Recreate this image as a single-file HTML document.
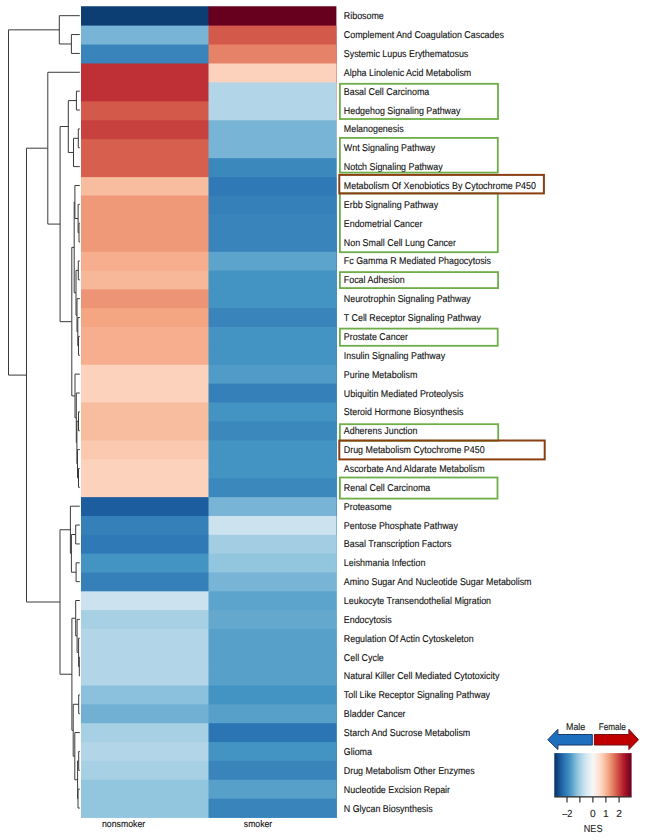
<!DOCTYPE html>
<html><head><meta charset="utf-8"><style>
html,body{margin:0;padding:0;background:#fff;}
svg{display:block;}
text{text-rendering:geometricPrecision;}
.lab text{text-rendering:geometricPrecision;font-family:"Liberation Sans",sans-serif;font-size:9.9px;fill:#111;stroke:#111;stroke-width:0.12px;}
</style></head><body>
<svg width="647" height="840" viewBox="0 0 647 840">
<defs><linearGradient id="g" x1="0" x2="1" y1="0" y2="0"><stop offset="0.0000" stop-color="#053061"/><stop offset="0.0417" stop-color="#114680"/><stop offset="0.0833" stop-color="#1c5da0"/><stop offset="0.1250" stop-color="#2a71b2"/><stop offset="0.1667" stop-color="#3884bb"/><stop offset="0.2083" stop-color="#4a97c5"/><stop offset="0.2500" stop-color="#6aacd0"/><stop offset="0.2917" stop-color="#8bc1dc"/><stop offset="0.3333" stop-color="#a7d0e4"/><stop offset="0.3750" stop-color="#c1ddec"/><stop offset="0.4167" stop-color="#d7e8f1"/><stop offset="0.4583" stop-color="#e7f0f4"/><stop offset="0.5000" stop-color="#f7f7f7"/><stop offset="0.5417" stop-color="#faebe3"/><stop offset="0.5833" stop-color="#fce0cf"/><stop offset="0.6250" stop-color="#fbceb6"/><stop offset="0.6667" stop-color="#f7b799"/><stop offset="0.7083" stop-color="#f19f7e"/><stop offset="0.7500" stop-color="#e58268"/><stop offset="0.7917" stop-color="#d96651"/><stop offset="0.8333" stop-color="#ca4842"/><stop offset="0.8750" stop-color="#bb2a34"/><stop offset="0.9167" stop-color="#a61429"/><stop offset="0.9583" stop-color="#860a24"/><stop offset="1.0000" stop-color="#67001f"/></linearGradient></defs>
<g><rect x="81.0" y="6.25" width="128.0" height="811.25" fill="#0c3e74"/><rect x="208.5" y="6.25" width="127.89999999999998" height="811.25" fill="#67001f"/><rect x="81.0" y="25.60" width="128.0" height="791.90" fill="#78b4d5"/><rect x="208.5" y="25.60" width="127.89999999999998" height="791.90" fill="#d35a4a"/><rect x="81.0" y="44.53" width="128.0" height="772.97" fill="#3884bb"/><rect x="208.5" y="44.53" width="127.89999999999998" height="772.97" fill="#e58268"/><rect x="81.0" y="63.47" width="128.0" height="754.03" fill="#be3036"/><rect x="208.5" y="63.47" width="127.89999999999998" height="754.03" fill="#fcd2bc"/><rect x="81.0" y="82.40" width="128.0" height="735.10" fill="#be3036"/><rect x="208.5" y="82.40" width="127.89999999999998" height="735.10" fill="#b2d5e7"/><rect x="81.0" y="101.34" width="128.0" height="716.16" fill="#d35a4a"/><rect x="208.5" y="101.34" width="127.89999999999998" height="716.16" fill="#b2d5e7"/><rect x="81.0" y="120.28" width="128.0" height="697.22" fill="#c7423f"/><rect x="208.5" y="120.28" width="127.89999999999998" height="697.22" fill="#78b4d5"/><rect x="81.0" y="139.22" width="128.0" height="678.28" fill="#d6604d"/><rect x="208.5" y="139.22" width="127.89999999999998" height="678.28" fill="#78b4d5"/><rect x="81.0" y="158.16" width="128.0" height="659.34" fill="#d6604d"/><rect x="208.5" y="158.16" width="127.89999999999998" height="659.34" fill="#3b88bd"/><rect x="81.0" y="177.10" width="128.0" height="640.40" fill="#f8bc9f"/><rect x="208.5" y="177.10" width="127.89999999999998" height="640.40" fill="#2f79b6"/><rect x="81.0" y="195.50" width="128.0" height="622.00" fill="#ef9979"/><rect x="208.5" y="195.50" width="127.89999999999998" height="622.00" fill="#3580b9"/><rect x="81.0" y="214.10" width="128.0" height="603.40" fill="#ef9979"/><rect x="208.5" y="214.10" width="127.89999999999998" height="603.40" fill="#3884bb"/><rect x="81.0" y="232.95" width="128.0" height="584.55" fill="#ef9979"/><rect x="208.5" y="232.95" width="127.89999999999998" height="584.55" fill="#3884bb"/><rect x="81.0" y="251.80" width="128.0" height="565.70" fill="#f6ae8e"/><rect x="208.5" y="251.80" width="127.89999999999998" height="565.70" fill="#5da4cc"/><rect x="81.0" y="270.60" width="128.0" height="546.90" fill="#f7b799"/><rect x="208.5" y="270.60" width="127.89999999999998" height="546.90" fill="#4393c3"/><rect x="81.0" y="289.40" width="128.0" height="528.10" fill="#ec9475"/><rect x="208.5" y="289.40" width="127.89999999999998" height="528.10" fill="#4393c3"/><rect x="81.0" y="308.20" width="128.0" height="509.30" fill="#f4a582"/><rect x="208.5" y="308.20" width="127.89999999999998" height="509.30" fill="#3884bb"/><rect x="81.0" y="327.00" width="128.0" height="490.50" fill="#f6ae8e"/><rect x="208.5" y="327.00" width="127.89999999999998" height="490.50" fill="#4393c3"/><rect x="81.0" y="345.88" width="128.0" height="471.62" fill="#f6ae8e"/><rect x="208.5" y="345.88" width="127.89999999999998" height="471.62" fill="#4393c3"/><rect x="81.0" y="364.75" width="128.0" height="452.75" fill="#fcd2bc"/><rect x="208.5" y="364.75" width="127.89999999999998" height="452.75" fill="#509bc8"/><rect x="81.0" y="383.62" width="128.0" height="433.88" fill="#fcd2bc"/><rect x="208.5" y="383.62" width="127.89999999999998" height="433.88" fill="#3580b9"/><rect x="81.0" y="402.50" width="128.0" height="415.00" fill="#f8bc9f"/><rect x="208.5" y="402.50" width="127.89999999999998" height="415.00" fill="#4393c3"/><rect x="81.0" y="421.45" width="128.0" height="396.05" fill="#f8bc9f"/><rect x="208.5" y="421.45" width="127.89999999999998" height="396.05" fill="#3b88bd"/><rect x="81.0" y="440.40" width="128.0" height="377.10" fill="#fac9b0"/><rect x="208.5" y="440.40" width="127.89999999999998" height="377.10" fill="#4393c3"/><rect x="81.0" y="459.35" width="128.0" height="358.15" fill="#fcd2bc"/><rect x="208.5" y="459.35" width="127.89999999999998" height="358.15" fill="#4393c3"/><rect x="81.0" y="478.30" width="128.0" height="339.20" fill="#fcd2bc"/><rect x="208.5" y="478.30" width="127.89999999999998" height="339.20" fill="#3b88bd"/><rect x="81.0" y="497.14" width="128.0" height="320.36" fill="#1c5da0"/><rect x="208.5" y="497.14" width="127.89999999999998" height="320.36" fill="#78b4d5"/><rect x="81.0" y="515.97" width="128.0" height="301.53" fill="#3580b9"/><rect x="208.5" y="515.97" width="127.89999999999998" height="301.53" fill="#cce2ee"/><rect x="81.0" y="534.81" width="128.0" height="282.69" fill="#2f79b6"/><rect x="208.5" y="534.81" width="127.89999999999998" height="282.69" fill="#a2cde2"/><rect x="81.0" y="553.65" width="128.0" height="263.85" fill="#4393c3"/><rect x="208.5" y="553.65" width="127.89999999999998" height="263.85" fill="#92c5de"/><rect x="81.0" y="572.48" width="128.0" height="245.02" fill="#3580b9"/><rect x="208.5" y="572.48" width="127.89999999999998" height="245.02" fill="#78b4d5"/><rect x="81.0" y="591.32" width="128.0" height="226.18" fill="#cce2ee"/><rect x="208.5" y="591.32" width="127.89999999999998" height="226.18" fill="#5da4cc"/><rect x="81.0" y="610.15" width="128.0" height="207.35" fill="#a7d0e4"/><rect x="208.5" y="610.15" width="127.89999999999998" height="207.35" fill="#64a8ce"/><rect x="81.0" y="628.99" width="128.0" height="188.51" fill="#b2d5e7"/><rect x="208.5" y="628.99" width="127.89999999999998" height="188.51" fill="#57a0ca"/><rect x="81.0" y="647.83" width="128.0" height="169.67" fill="#b2d5e7"/><rect x="208.5" y="647.83" width="127.89999999999998" height="169.67" fill="#57a0ca"/><rect x="81.0" y="666.66" width="128.0" height="150.84" fill="#b2d5e7"/><rect x="208.5" y="666.66" width="127.89999999999998" height="150.84" fill="#57a0ca"/><rect x="81.0" y="685.50" width="128.0" height="132.00" fill="#8bc1dc"/><rect x="208.5" y="685.50" width="127.89999999999998" height="132.00" fill="#4393c3"/><rect x="81.0" y="704.36" width="128.0" height="113.14" fill="#71b0d3"/><rect x="208.5" y="704.36" width="127.89999999999998" height="113.14" fill="#57a0ca"/><rect x="81.0" y="723.21" width="128.0" height="94.29" fill="#a7d0e4"/><rect x="208.5" y="723.21" width="127.89999999999998" height="94.29" fill="#2c75b4"/><rect x="81.0" y="742.07" width="128.0" height="75.43" fill="#b2d5e7"/><rect x="208.5" y="742.07" width="127.89999999999998" height="75.43" fill="#4393c3"/><rect x="81.0" y="760.93" width="128.0" height="56.57" fill="#a7d0e4"/><rect x="208.5" y="760.93" width="127.89999999999998" height="56.57" fill="#3884bb"/><rect x="81.0" y="779.79" width="128.0" height="37.71" fill="#92c5de"/><rect x="208.5" y="779.79" width="127.89999999999998" height="37.71" fill="#57a0ca"/><rect x="81.0" y="798.64" width="128.0" height="18.86" fill="#92c5de"/><rect x="208.5" y="798.64" width="127.89999999999998" height="18.86" fill="#3884bb"/></g>
<path d="M71.40 34.55H79.80M71.40 53.41H79.80M71.40 34.55V53.41M59.30 15.68H79.80M59.30 43.98H71.40M59.30 15.68V43.98M76.40 91.15H79.80M76.40 110.01H79.80M76.40 91.15V110.01M78.30 128.88H79.80M78.30 147.75H79.80M78.30 128.88V147.75M73.50 138.31H78.30M73.50 166.61H79.80M73.50 138.31V166.61M68.30 100.58H76.40M68.30 152.46H73.50M68.30 100.58V152.46M79.00 223.21H79.80M79.00 242.07H79.80M79.00 223.21V242.07M78.10 204.34H79.80M78.10 232.64H79.00M78.10 204.34V232.64M74.90 185.48H79.80M74.90 218.49H78.10M74.90 185.48V218.49M78.30 260.94H79.80M78.30 279.81H79.80M78.30 260.94V279.81M78.50 336.40H79.80M78.50 355.27H79.80M78.50 336.40V355.27M77.80 317.54H79.80M77.80 345.84H78.50M77.80 317.54V345.84M77.00 298.67H79.80M77.00 331.69H77.80M77.00 298.67V331.69M76.00 270.37H78.30M76.00 315.18H77.00M76.00 270.37V315.18M74.20 201.98H74.90M74.20 292.78H76.00M74.20 201.98V292.78M78.50 411.87H79.80M78.50 430.74H79.80M78.50 411.87V430.74M78.50 468.47H79.80M78.50 487.33H79.80M78.50 468.47V487.33M77.50 449.60H79.80M77.50 477.90H78.50M77.50 449.60V477.90M76.90 421.30H78.50M76.90 463.75H77.50M76.90 421.30V463.75M76.30 393.00H79.80M76.30 442.53H76.90M76.30 393.00V442.53M75.00 374.14H79.80M75.00 417.76H76.30M75.00 374.14V417.76M71.80 247.38H74.20M71.80 395.95H75.00M71.80 247.38V395.95M60.10 126.52H68.30M60.10 321.67H71.80M60.10 126.52V321.67M47.80 72.28H79.80M47.80 224.09H60.10M47.80 72.28V224.09M75.70 525.06H79.80M75.70 543.93H79.80M75.70 525.06V543.93M76.10 562.80H79.80M76.10 581.66H79.80M76.10 562.80V581.66M71.40 534.50H75.70M71.40 572.23H76.10M71.40 534.50V572.23M70.40 506.20H79.80M70.40 553.36H71.40M70.40 506.20V553.36M79.30 657.13H79.80M79.30 675.99H79.80M79.30 657.13V675.99M78.60 638.26H79.80M78.60 666.56H79.30M78.60 638.26V666.56M77.10 619.39H79.80M77.10 652.41H78.60M77.10 619.39V652.41M75.70 600.53H79.80M75.70 635.90H77.10M75.70 600.53V635.90M78.70 694.86H79.80M78.70 713.73H79.80M78.70 694.86V713.73M78.70 751.46H79.80M78.70 770.32H79.80M78.70 751.46V770.32M78.00 789.19H79.80M78.00 808.05H79.80M78.00 789.19V808.05M77.60 760.89H78.70M77.60 798.62H78.00M77.60 760.89V798.62M74.80 732.59H79.80M74.80 779.76H77.60M74.80 732.59V779.76M73.20 704.29H78.70M73.20 756.17H74.80M73.20 704.29V756.17M71.90 618.22H75.70M71.90 730.23H73.20M71.90 618.22V730.23M60.00 529.78H70.40M60.00 674.22H71.90M60.00 529.78V674.22M26.50 148.19H47.80M26.50 602.00H60.00M26.50 148.19V602.00M8.50 29.83H59.30M8.50 375.10H26.50M8.50 29.83V375.10" fill="none" stroke="#3a3a3a" stroke-width="1"/>
<rect x="339.9" y="83.8" width="158.10" height="35.20" fill="none" stroke="#6DAE48" stroke-width="1.8"/><rect x="339.9" y="137.9" width="157.90" height="34.70" fill="none" stroke="#6DAE48" stroke-width="1.8"/><rect x="339.9" y="193.4" width="157.90" height="58.80" fill="none" stroke="#6DAE48" stroke-width="1.8"/><rect x="339.9" y="272.1" width="158.20" height="16.00" fill="none" stroke="#6DAE48" stroke-width="1.8"/><rect x="339.9" y="328.6" width="157.80" height="17.20" fill="none" stroke="#6DAE48" stroke-width="1.8"/><rect x="339.9" y="424.2" width="158.30" height="16.60" fill="none" stroke="#6DAE48" stroke-width="1.8"/><rect x="339.9" y="477.5" width="157.60" height="21.10" fill="none" stroke="#6DAE48" stroke-width="1.8"/><rect x="339.3" y="174.9" width="204.60" height="18.50" fill="none" stroke="#8A3F12" stroke-width="2"/><rect x="339.3" y="440.5" width="205.40" height="18.90" fill="none" stroke="#8A3F12" stroke-width="2"/>
<g class="lab" transform="translate(343.8,0) scale(0.9,1)"><text x="0" y="19.18">Ribosome</text><text x="0" y="38.05">Complement And Coagulation Cascades</text><text x="0" y="56.91">Systemic Lupus Erythematosus</text><text x="0" y="75.78">Alpha Linolenic Acid Metabolism</text><text x="0" y="94.65">Basal Cell Carcinoma</text><text x="0" y="113.51">Hedgehog Signaling Pathway</text><text x="0" y="132.38">Melanogenesis</text><text x="0" y="151.25">Wnt Signaling Pathway</text><text x="0" y="170.11">Notch Signaling Pathway</text><text x="0" y="188.98">Metabolism Of Xenobiotics By Cytochrome P450</text><text x="0" y="207.84">Erbb Signaling Pathway</text><text x="0" y="226.71">Endometrial Cancer</text><text x="0" y="245.57">Non Small Cell Lung Cancer</text><text x="0" y="264.44">Fc Gamma R Mediated Phagocytosis</text><text x="0" y="283.31">Focal Adhesion</text><text x="0" y="302.17">Neurotrophin Signaling Pathway</text><text x="0" y="321.04">T Cell Receptor Signaling Pathway</text><text x="0" y="339.90">Prostate Cancer</text><text x="0" y="358.77">Insulin Signaling Pathway</text><text x="0" y="377.64">Purine Metabolism</text><text x="0" y="396.50">Ubiquitin Mediated Proteolysis</text><text x="0" y="415.37">Steroid Hormone Biosynthesis</text><text x="0" y="434.24">Adherens Junction</text><text x="0" y="453.10">Drug Metabolism Cytochrome P450</text><text x="0" y="471.97">Ascorbate And Aldarate Metabolism</text><text x="0" y="490.83">Renal Cell Carcinoma</text><text x="0" y="509.70">Proteasome</text><text x="0" y="528.56">Pentose Phosphate Pathway</text><text x="0" y="547.43">Basal Transcription Factors</text><text x="0" y="566.30">Leishmania Infection</text><text x="0" y="585.16">Amino Sugar And Nucleotide Sugar Metabolism</text><text x="0" y="604.03">Leukocyte Transendothelial Migration</text><text x="0" y="622.89">Endocytosis</text><text x="0" y="641.76">Regulation Of Actin Cytoskeleton</text><text x="0" y="660.63">Cell Cycle</text><text x="0" y="679.49">Natural Killer Cell Mediated Cytotoxicity</text><text x="0" y="698.36">Toll Like Receptor Signaling Pathway</text><text x="0" y="717.23">Bladder Cancer</text><text x="0" y="736.09">Starch And Sucrose Metabolism</text><text x="0" y="754.96">Glioma</text><text x="0" y="773.82">Drug Metabolism Other Enzymes</text><text x="0" y="792.69">Nucleotide Excision Repair</text><text x="0" y="811.55">N Glycan Biosynthesis</text></g>
<text x="102" y="827.2" textLength="43.2" lengthAdjust="spacingAndGlyphs" style="font-family:'Liberation Sans',sans-serif;font-size:9.5px;fill:#111;stroke:#111;stroke-width:0.12px">nonsmoker</text>
<text x="243.8" y="827.2" textLength="28.4" lengthAdjust="spacingAndGlyphs" style="font-family:'Liberation Sans',sans-serif;font-size:9.5px;fill:#111;stroke:#111;stroke-width:0.12px">smoker</text>
<polygon points="547.8,739.7 557.9,729.3 557.9,734.5 592.3,734.5 592.3,745 557.9,745 557.9,749.6" fill="#1F6FBF" stroke="#1B3A66" stroke-width="1"/>
<polygon points="638.5,739.7 628.9,729.3 628.9,734.5 594.4,734.5 594.4,745 628.9,745 628.9,749.6" fill="#C00000" stroke="#6E1010" stroke-width="1"/>
<text x="566" y="729.6" textLength="19.2" lengthAdjust="spacingAndGlyphs" style="font-family:'Liberation Sans',sans-serif;font-size:9.7px;fill:#222;stroke:#222;stroke-width:0.15px">Male</text>
<text x="598.7" y="729.6" textLength="27.2" lengthAdjust="spacingAndGlyphs" style="font-family:'Liberation Sans',sans-serif;font-size:9.7px;fill:#222;stroke:#222;stroke-width:0.15px">Female</text>
<rect x="554.3" y="753.1" width="77.3" height="43.6" fill="url(#g)"/>
<path d="M554.3 796.9H631.6M567 797V802.6M579.9 797V802.6M592.9 797V802.6M605.9 797V802.6M619.1 797V802.6" stroke="#222" stroke-width="1.1" fill="none"/>
<g style="font-family:'Liberation Sans',sans-serif;font-size:10.2px;fill:#222;stroke:#222;stroke-width:0.1px" text-anchor="middle">
<text x="567.3" y="817" textLength="10.2" lengthAdjust="spacingAndGlyphs">&#8211;2</text><text x="592.9" y="817">0</text><text x="605.9" y="817">1</text><text x="619.2" y="817">2</text>
<text x="593.1" y="831.6" textLength="18.8" lengthAdjust="spacingAndGlyphs">NES</text></g>
</svg>
</body></html>
